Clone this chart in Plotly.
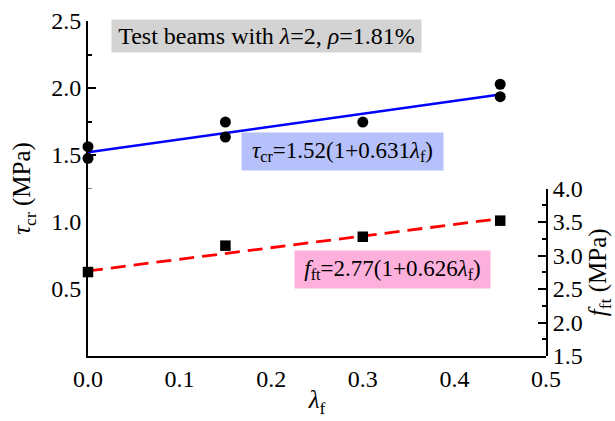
import plotly.graph_objects as go

# Measured cracking shear stress (left axis)
lam_tau = [0.0, 0.0, 0.15, 0.15, 0.30, 0.45, 0.45]
tau_cr = [1.562, 1.475, 1.746, 1.634, 1.746, 2.028, 1.935]

# Measured tensile strength of concrete (right axis)
lam_ft = [0.0, 0.15, 0.30, 0.45]
f_ft = [2.753, 3.147, 3.28, 3.52]

# Fitted relations
tau0, k_tau = 1.52, 0.631
ft0, k_ft = 2.77, 0.626
lam_fit = [0.0, 0.45]
tau_fit = [tau0 * (1 + k_tau * l) for l in lam_fit]
ft_fit = [ft0 * (1 + k_ft * l) for l in lam_fit]

FONT = "Liberation Serif"

fig = go.Figure()
fig.add_trace(go.Scatter(x=lam_fit, y=tau_fit, mode="lines",
                         line=dict(color="#0000ff", width=2.6), showlegend=False))
fig.add_trace(go.Scatter(x=lam_tau, y=tau_cr, mode="markers", cliponaxis=False,
                         marker=dict(symbol="circle", size=11, color="black"),
                         showlegend=False))
fig.add_trace(go.Scatter(x=lam_fit, y=ft_fit, mode="lines", yaxis="y2",
                         line=dict(color="#ff0000", width=2.8, dash="15px,8px"),
                         showlegend=False))
fig.add_trace(go.Scatter(x=lam_ft, y=f_ft, mode="markers", yaxis="y2", cliponaxis=False,
                         marker=dict(symbol="square", size=10.5, color="black"),
                         showlegend=False))

tickfont = dict(family=FONT, size=24, color="black")
titlefont = dict(family=FONT, size=25, color="black")
common = dict(showline=True, linecolor="black", linewidth=2, ticks="inside",
              ticklen=8, tickwidth=2, tickcolor="black", showgrid=False,
              zeroline=False, tickfont=tickfont, tickformat=".1f", layer="above traces",
              automargin=False)


def minor(step):
    return dict(dtick=step, ticks="inside", ticklen=4, tickwidth=1.5, tickcolor="black",
                showgrid=False)


fig.update_layout(
    width=615, height=421,
    margin=dict(l=88, r=69, t=21, b=65),
    plot_bgcolor="white", paper_bgcolor="white",
    font=dict(family=FONT, size=24, color="black"),
    xaxis=dict(range=[0, 0.5], tick0=0, dtick=0.1, minor=minor(0.05),
               title=dict(text="<i>λ</i><sub>f</sub>", standoff=0, font=titlefont),
               **common),
    yaxis=dict(range=[0, 2.5], tickvals=[0.5, 1.0, 1.5, 2.0, 2.5], minor=minor(0.25),
               title=dict(text="<i>τ</i><sub>cr</sub> (MPa)", standoff=13, font=titlefont),
               **common),
    yaxis2=dict(range=[1.5, 4.0], domain=[0, 0.5], anchor="x", side="right",
                tick0=1.5, dtick=0.5, minor=minor(0.25),
                title=dict(text="<i>f</i><sub>ft</sub> (MPa)", standoff=8, font=titlefont),
                **common),
)

fig.add_annotation(xref="paper", yref="paper", x=0.39, y=0.955,
                   xanchor="center", yanchor="middle",
                   text="Test beams with <i>λ</i>=2, <i>ρ</i>=1.81%",
                   showarrow=False, bgcolor="#d3d3d3", width=307, height=30, borderpad=1,
                   font=dict(family=FONT, size=24, color="black"))
fig.add_annotation(xref="paper", yref="paper", x=0.556, y=0.610,
                   xanchor="center", yanchor="middle",
                   text="<i>τ</i><sub>cr</sub>=1.52(1+0.631<i>λ</i><sub>f</sub>)",
                   showarrow=False, bgcolor="#b6c0fb", width=199, height=35, borderpad=1,
                   font=dict(family=FONT, size=23, color="black"))
fig.add_annotation(xref="paper", yref="paper", x=0.665, y=0.258,
                   xanchor="center", yanchor="middle",
                   text="<i>f</i><sub>ft</sub>=2.77(1+0.626<i>λ</i><sub>f</sub>)",
                   showarrow=False, bgcolor="#fdb0dc", width=193, height=35, borderpad=1,
                   font=dict(family=FONT, size=23, color="black"))

fig.write_html("out.html")
